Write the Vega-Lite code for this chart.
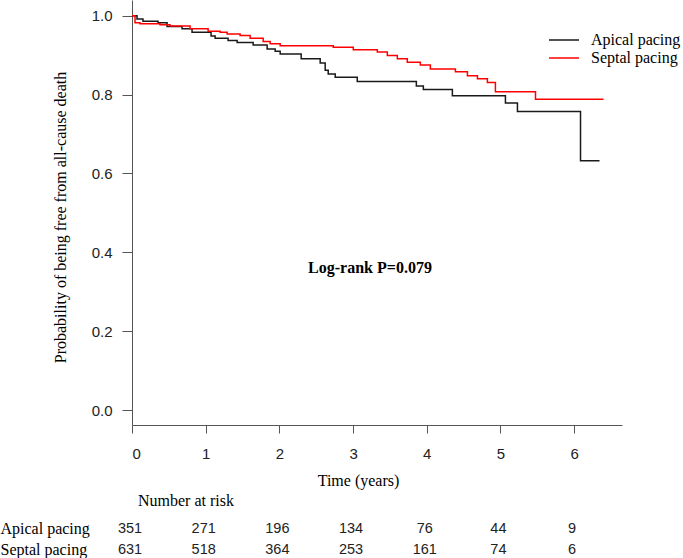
{
  "$schema": "https://vega.github.io/schema/vega-lite/v6.json",
  "background": "white",
  "padding": {"left": 0, "top": 0, "right": 0, "bottom": 0},
  "autosize": {"type": "pad"},
  "config": {
    "view": {"stroke": null},
    "concat": {"spacing": 5},
    "axis": {
      "grid": false,
      "labelFont": "Liberation Sans",
      "labelFontSize": 15,
      "labelColor": "#222",
      "titleFont": "Liberation Serif",
      "titleFontSize": 16,
      "titleFontWeight": "normal",
      "titleColor": "#000",
      "domainColor": "#555",
      "tickColor": "#555"
    }
  },
  "datasets": {
    "km": [
      {"group": "Apical pacing", "t": 0, "s": 1.0},
      {"group": "Apical pacing", "t": 0.068, "s": 0.992},
      {"group": "Apical pacing", "t": 0.149, "s": 0.986},
      {"group": "Apical pacing", "t": 0.353, "s": 0.982},
      {"group": "Apical pacing", "t": 0.476, "s": 0.973},
      {"group": "Apical pacing", "t": 0.679, "s": 0.967},
      {"group": "Apical pacing", "t": 0.815, "s": 0.958},
      {"group": "Apical pacing", "t": 1.073, "s": 0.949},
      {"group": "Apical pacing", "t": 1.128, "s": 0.943},
      {"group": "Apical pacing", "t": 1.304, "s": 0.937},
      {"group": "Apical pacing", "t": 1.427, "s": 0.932},
      {"group": "Apical pacing", "t": 1.644, "s": 0.926},
      {"group": "Apical pacing", "t": 1.834, "s": 0.916},
      {"group": "Apical pacing", "t": 1.943, "s": 0.91},
      {"group": "Apical pacing", "t": 2.011, "s": 0.903},
      {"group": "Apical pacing", "t": 2.296, "s": 0.891},
      {"group": "Apical pacing", "t": 2.554, "s": 0.88},
      {"group": "Apical pacing", "t": 2.622, "s": 0.862},
      {"group": "Apical pacing", "t": 2.663, "s": 0.852},
      {"group": "Apical pacing", "t": 2.758, "s": 0.844},
      {"group": "Apical pacing", "t": 3.057, "s": 0.833},
      {"group": "Apical pacing", "t": 3.859, "s": 0.822},
      {"group": "Apical pacing", "t": 3.954, "s": 0.813},
      {"group": "Apical pacing", "t": 4.348, "s": 0.797},
      {"group": "Apical pacing", "t": 5.068, "s": 0.779},
      {"group": "Apical pacing", "t": 5.231, "s": 0.757},
      {"group": "Apical pacing", "t": 6.087, "s": 0.632},
      {"group": "Apical pacing", "t": 6.345, "s": 0.632},
      {"group": "Septal pacing", "t": 0, "s": 1.0},
      {"group": "Septal pacing", "t": 0.041, "s": 0.982},
      {"group": "Septal pacing", "t": 0.109, "s": 0.98},
      {"group": "Septal pacing", "t": 0.38, "s": 0.977},
      {"group": "Septal pacing", "t": 0.516, "s": 0.974},
      {"group": "Septal pacing", "t": 0.788, "s": 0.967},
      {"group": "Septal pacing", "t": 1.033, "s": 0.961},
      {"group": "Septal pacing", "t": 1.196, "s": 0.958},
      {"group": "Septal pacing", "t": 1.291, "s": 0.954},
      {"group": "Septal pacing", "t": 1.467, "s": 0.95},
      {"group": "Septal pacing", "t": 1.603, "s": 0.943},
      {"group": "Septal pacing", "t": 1.78, "s": 0.935},
      {"group": "Septal pacing", "t": 1.875, "s": 0.929},
      {"group": "Septal pacing", "t": 2.011, "s": 0.924},
      {"group": "Septal pacing", "t": 2.731, "s": 0.92},
      {"group": "Septal pacing", "t": 3.003, "s": 0.914},
      {"group": "Septal pacing", "t": 3.329, "s": 0.908},
      {"group": "Septal pacing", "t": 3.465, "s": 0.899},
      {"group": "Septal pacing", "t": 3.601, "s": 0.891},
      {"group": "Septal pacing", "t": 3.736, "s": 0.882},
      {"group": "Septal pacing", "t": 3.913, "s": 0.875},
      {"group": "Septal pacing", "t": 4.049, "s": 0.865},
      {"group": "Septal pacing", "t": 4.389, "s": 0.858},
      {"group": "Septal pacing", "t": 4.552, "s": 0.848},
      {"group": "Septal pacing", "t": 4.688, "s": 0.84},
      {"group": "Septal pacing", "t": 4.823, "s": 0.831},
      {"group": "Septal pacing", "t": 4.932, "s": 0.807},
      {"group": "Septal pacing", "t": 5.476, "s": 0.788},
      {"group": "Septal pacing", "t": 6.399, "s": 0.788}
    ],
    "risk": [
      {"group": "Apical pacing", "t": 0, "n": 351},
      {"group": "Apical pacing", "t": 1, "n": 271},
      {"group": "Apical pacing", "t": 2, "n": 196},
      {"group": "Apical pacing", "t": 3, "n": 134},
      {"group": "Apical pacing", "t": 4, "n": 76},
      {"group": "Apical pacing", "t": 5, "n": 44},
      {"group": "Apical pacing", "t": 6, "n": 9},
      {"group": "Septal pacing", "t": 0, "n": 631},
      {"group": "Septal pacing", "t": 1, "n": 518},
      {"group": "Septal pacing", "t": 2, "n": 364},
      {"group": "Septal pacing", "t": 3, "n": 253},
      {"group": "Septal pacing", "t": 4, "n": 161},
      {"group": "Septal pacing", "t": 5, "n": 74},
      {"group": "Septal pacing", "t": 6, "n": 6}
    ]
  },
  "vconcat": [
    {
      "width": 490,
      "height": 425,
      "layer": [
        {
          "data": {"name": "km"},
          "mark": {"type": "line", "interpolate": "step-after", "strokeWidth": 1.5},
          "encoding": {
            "x": {
              "field": "t",
              "type": "quantitative",
              "scale": {"domain": [0, 6.65], "nice": false, "zero": false},
              "axis": {
                "values": [0, 1, 2, 3, 4, 5, 6],
                "format": "d",
                "title": "Time (years)",
                "tickSize": 8,
                "labelPadding": 13,
                "titlePadding": 11,
                "titleX": 226
              }
            },
            "y": {
              "field": "s",
              "type": "quantitative",
              "scale": {"domain": [-0.038, 1.04], "nice": false, "zero": false},
              "axis": {
                "values": [0, 0.2, 0.4, 0.6, 0.8, 1.0],
                "format": ".1f",
                "title": "Probability of being free from all-cause death",
                "tickSize": 10,
                "labelPadding": 10,
                "titlePadding": 23,
                "titleY": 217
              }
            },
            "color": {
              "field": "group",
              "type": "nominal",
              "scale": {"domain": ["Apical pacing", "Septal pacing"], "range": ["#1a1a1a", "#ff0000"]},
              "legend": {
                "title": null,
                "orient": "none",
                "legendX": 416,
                "legendY": 31,
                "symbolType": "stroke",
                "symbolSize": 900,
                "symbolStrokeWidth": 1.5,
                "clipHeight": 18,
                "labelFont": "Liberation Serif",
                "labelFontSize": 16,
                "labelColor": "#000",
                "labelOffset": 11,
                "rowPadding": 0,
                "padding": 0
              }
            }
          }
        },
        {
          "data": {"values": [{"label": "Log-rank P=0.079"}]},
          "mark": {"type": "text", "font": "Liberation Serif", "fontSize": 16, "fontWeight": "bold", "color": "#000"},
          "encoding": {
            "x": {"datum": 3.23},
            "y": {"datum": 0.361},
            "text": {"field": "label"}
          }
        }
      ]
    },
    {
      "width": 490,
      "height": 42,
      "data": {"name": "risk"},
      "title": {
        "text": "Number at risk",
        "anchor": "start",
        "frame": "group",
        "font": "Liberation Serif",
        "fontSize": 16,
        "fontWeight": "normal",
        "color": "#000",
        "dx": 6,
        "offset": 9
      },
      "mark": {"type": "text", "font": "Liberation Sans", "fontSize": 14.5, "color": "#222", "dx": -2},
      "encoding": {
        "x": {
          "field": "t",
          "type": "quantitative",
          "scale": {"domain": [0, 6.65], "nice": false, "zero": false},
          "axis": null
        },
        "y": {
          "field": "group",
          "type": "nominal",
          "scale": {"type": "point", "domain": ["Apical pacing", "Septal pacing"], "padding": 0.5},
          "axis": {
            "title": null,
            "domain": false,
            "ticks": false,
            "tickSize": 0,
            "labelPadding": 132,
            "labelAlign": "left",
            "labelFont": "Liberation Serif",
            "labelFontSize": 16,
            "labelColor": "#000"
          }
        },
        "text": {"field": "n", "type": "quantitative"}
      }
    }
  ]
}
